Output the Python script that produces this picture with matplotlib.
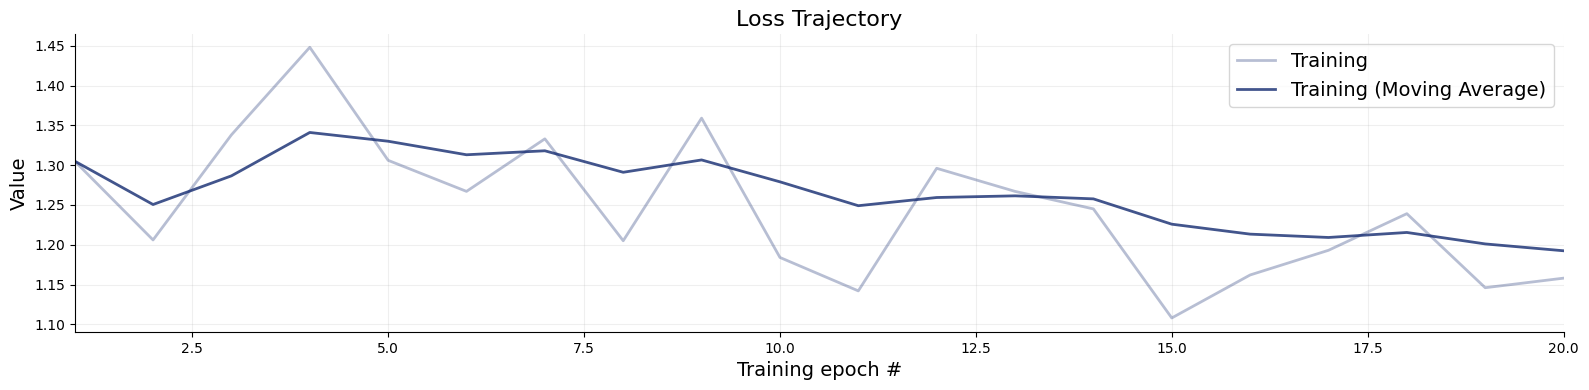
import matplotlib
matplotlib.use("Agg")
import matplotlib.pyplot as plt
import numpy as np

epochs = list(range(1, 21))
training = [1.305, 1.206, 1.338, 1.448, 1.306, 1.267, 1.333, 1.205, 1.359, 1.184,
            1.142, 1.296, 1.267, 1.245, 1.108, 1.162, 1.193, 1.239, 1.146, 1.158]
moving_avg = [1.305, 1.2505, 1.2865, 1.341, 1.330, 1.313, 1.318, 1.291, 1.3065, 1.279,
              1.249, 1.2593, 1.2614, 1.2576, 1.2258, 1.2133, 1.2091, 1.2154, 1.201, 1.1924]

color = "#132a70"

fig = plt.figure(figsize=(15.89, 3.90), dpi=100)
ax = fig.add_axes([0.047, 0.149, 0.937, 0.763])
ax.plot(epochs, training, color=color, alpha=0.3, lw=2, label="Training")
ax.plot(epochs, moving_avg, color=color, alpha=0.8, lw=2, label="Training (Moving Average)")
ax.set_xlim(1, 20)
ax.set_ylim(1.0905, 1.4643)
ax.grid(alpha=0.2)
ax.spines["top"].set_visible(False)
ax.spines["right"].set_visible(False)
ax.set_title("Loss Trajectory", fontsize=16)
ax.set_xlabel("Training epoch #", fontsize=14)
ax.set_ylabel("Value", fontsize=14)
ax.legend(fontsize=14, loc="upper right")
fig.savefig("out.png", dpi=100)
